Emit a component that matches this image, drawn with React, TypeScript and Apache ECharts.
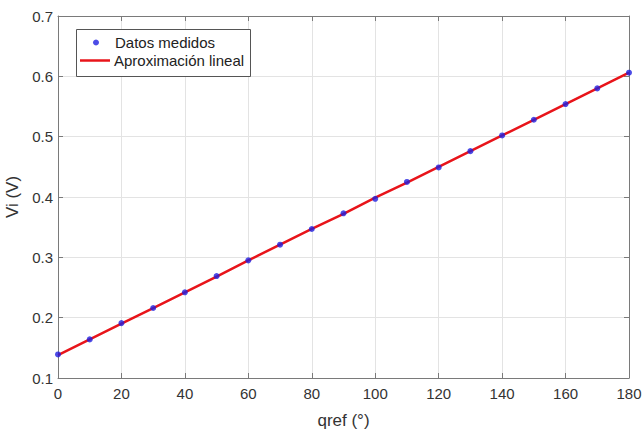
import React, { useEffect, useRef } from "react";
import * as echarts from "echarts";

const xValues = [0, 10, 20, 30, 40, 50, 60, 70, 80, 90, 100, 110, 120, 130, 140, 150, 160, 170, 180];
const measured = [0.139, 0.164, 0.191, 0.216, 0.242, 0.269, 0.295, 0.321, 0.347, 0.373, 0.397, 0.425, 0.449, 0.476, 0.502, 0.528, 0.554, 0.58, 0.606];
const fitted = [0.138, 0.164, 0.190, 0.216, 0.242, 0.268, 0.295, 0.321, 0.347, 0.372, 0.399, 0.424, 0.450, 0.476, 0.502, 0.528, 0.554, 0.58, 0.606];
const seriesNames = ["Datos medidos", "Aproximación lineal"];
const xName = "qref (°)";
const yName = "Vi (V)";

const FONT = "'Liberation Sans', Arial, sans-serif";
const AXIS_COLOR = "#7a7a7a";
const LABEL_COLOR = "#333333";
const GRID_COLOR = "#e3e3e3";

export default function App() {
  const ref = useRef<HTMLDivElement>(null);
  useEffect(() => {
    if (!ref.current) return;
    const chart = echarts.init(ref.current, undefined, { renderer: "svg" });
    const tickCommon = { show: true, inside: true, length: 5, lineStyle: { color: AXIS_COLOR } };
    chart.setOption({
      animation: false,
      backgroundColor: "#ffffff",
      textStyle: { fontFamily: FONT },
      grid: { left: 58, right: 13, top: 16, bottom: 56, containLabel: false, outerBoundsMode: "none" },
      xAxis: [
        {
          type: "value",
          min: 0,
          max: 180,
          interval: 20,
          name: xName,
          nameLocation: "middle",
          nameGap: 34,
          nameTextStyle: { fontSize: 17, color: LABEL_COLOR, fontFamily: FONT },
          axisLine: { show: true, lineStyle: { color: AXIS_COLOR, width: 1 } },
          axisTick: tickCommon,
          axisLabel: { fontSize: 15, color: LABEL_COLOR, margin: 8, fontFamily: FONT },
          splitLine: { show: true, lineStyle: { color: GRID_COLOR, width: 1 } },
        },
        {
          type: "value",
          position: "top",
          min: 0,
          max: 180,
          interval: 20,
          axisLine: { show: true, onZero: false, lineStyle: { color: AXIS_COLOR, width: 1 } },
          axisTick: tickCommon,
          axisLabel: { show: false },
          splitLine: { show: false },
        },
      ],
      yAxis: [
        {
          type: "value",
          min: 0.1,
          max: 0.7,
          interval: 0.1,
          name: yName,
          nameLocation: "middle",
          nameGap: 31,
          nameTextStyle: { fontSize: 17, color: LABEL_COLOR, fontFamily: FONT },
          axisLine: { show: true, lineStyle: { color: AXIS_COLOR, width: 1 } },
          axisTick: tickCommon,
          axisLabel: { fontSize: 15, color: LABEL_COLOR, margin: 5, fontFamily: FONT, formatter: (v: number) => String(Math.round(v * 10) / 10) },
          splitLine: { show: true, lineStyle: { color: GRID_COLOR, width: 1 } },
        },
        {
          type: "value",
          position: "right",
          min: 0.1,
          max: 0.7,
          interval: 0.1,
          axisLine: { show: true, onZero: false, lineStyle: { color: AXIS_COLOR, width: 1 } },
          axisTick: tickCommon,
          axisLabel: { show: false },
          splitLine: { show: false },
        },
      ],
      graphic: [
        {
          type: "rect",
          z: 3,
          shape: { x: 76.5, y: 29.5, width: 174, height: 47 },
          style: { fill: "#ffffff", stroke: "#555555", lineWidth: 1 },
        },
      ],
      legend: [
        {
          data: [{ name: seriesNames[0], icon: "circle" }],
          left: 93,
          top: 35,
          z: 5,
          itemWidth: 6,
          itemHeight: 6,
          padding: 0,
          textStyle: { fontSize: 15, color: "#222", fontFamily: FONT, padding: [0, 0, 0, 11] },
        },
        {
          data: [{ name: seriesNames[1], icon: "rect" }],
          left: 80,
          top: 53,
          z: 5,
          itemWidth: 30,
          itemHeight: 2.5,
          padding: 0,
          textStyle: { fontSize: 15, color: "#222", fontFamily: FONT, padding: [0, 0, 0, -1] },
        },
      ],
      series: [
        {
          name: seriesNames[1],
          type: "line",
          data: xValues.map((x, i) => [x, fitted[i]]),
          showSymbol: false,
          symbol: "none",
          lineStyle: { color: "#e8141a", width: 2.5 },
          itemStyle: { color: "#e8141a" },
          z: 2,
        },
        {
          name: seriesNames[0],
          type: "scatter",
          data: xValues.map((x, i) => [x, measured[i]]),
          symbol: "circle",
          symbolSize: 6,
          itemStyle: { color: "#1f1fe0" },
          z: 3,
        },
      ],
    });
    return () => chart.dispose();
  }, []);
  return <div ref={ref} style={{ width: 642, height: 434, position: "absolute", left: 0, top: 0 }} />;
}
